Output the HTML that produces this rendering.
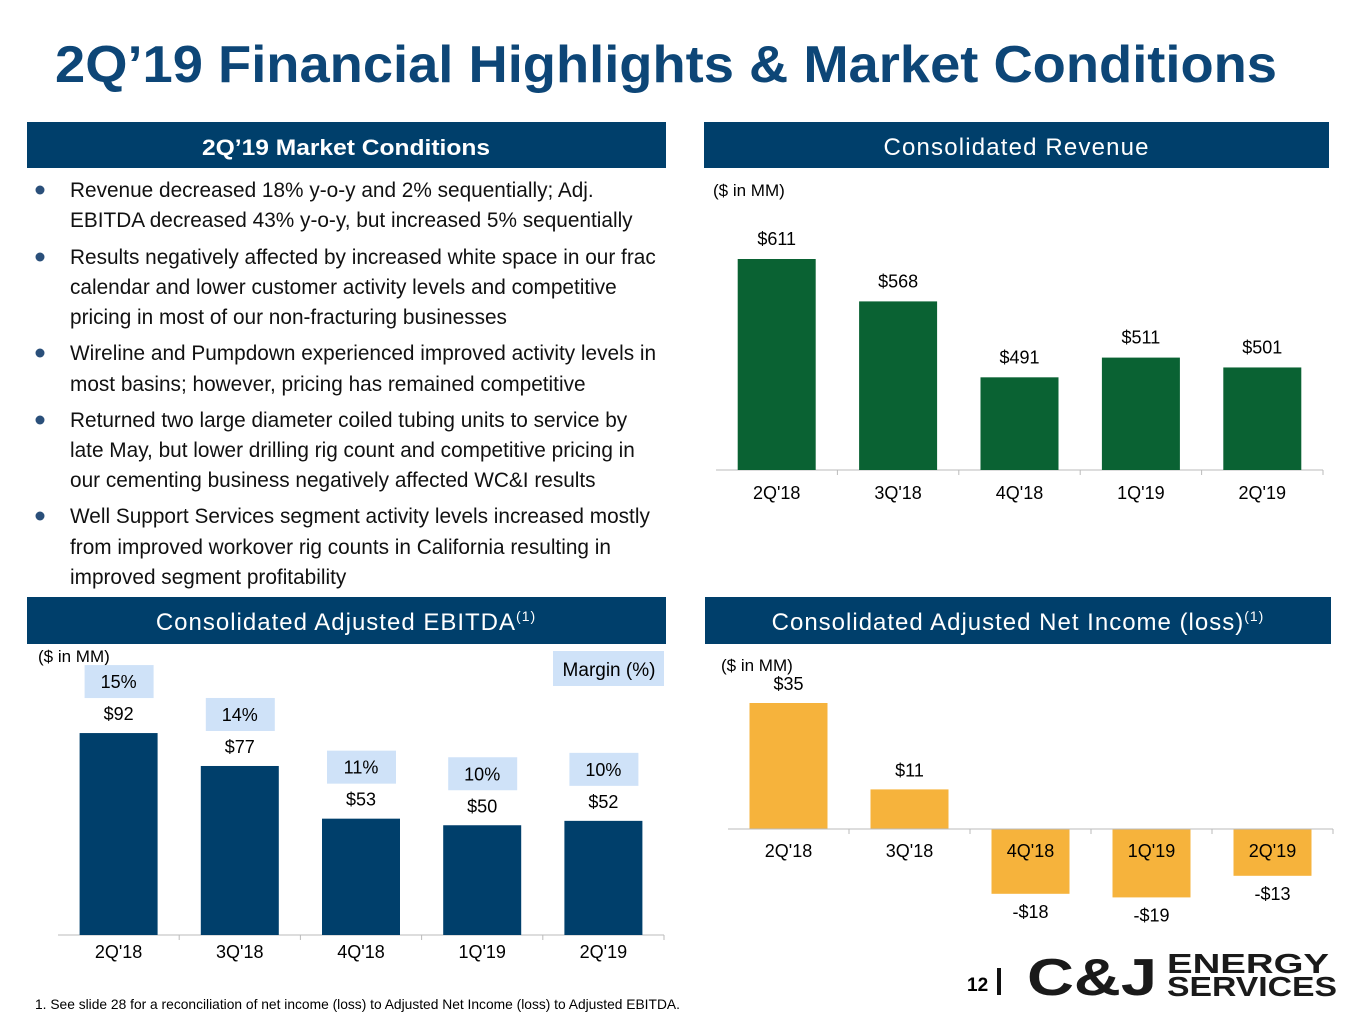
<!DOCTYPE html>
<html><head><meta charset="utf-8"><style>
body{margin:0;width:1365px;height:1024px;background:#fff;overflow:hidden;font-family:"Liberation Sans",sans-serif}
svg{display:block}
</style></head><body>
<svg width="1365" height="1024" viewBox="0 0 1365 1024" font-family="Liberation Sans, sans-serif">
<text x="55" y="82" font-size="52" font-weight="bold" fill="#0d4677" textLength="1222" lengthAdjust="spacingAndGlyphs">2Q’19 Financial Highlights &amp; Market Conditions</text>

<g><rect x="27" y="122" width="639" height="46" fill="#003f6b"/><text x="346" y="155" text-anchor="middle" fill="#fff" font-size="22" font-weight="bold" textLength="288" lengthAdjust="spacingAndGlyphs">2Q’19 Market Conditions</text></g>
<g><rect x="704" y="122" width="625" height="46" fill="#003f6b"/><text x="1016" y="155" text-anchor="middle" fill="#fff" font-size="24" textLength="265" lengthAdjust="spacing">Consolidated Revenue</text></g>
<g><rect x="27" y="597" width="639" height="47" fill="#003f6b"/><text x="346" y="630" text-anchor="middle" fill="#fff" font-size="24" letter-spacing="1">Consolidated Adjusted EBITDA<tspan font-size="14" dy="-9">(1)</tspan></text></g>
<g><rect x="705" y="597" width="626" height="47" fill="#003f6b"/><text x="1018" y="630" text-anchor="middle" fill="#fff" font-size="24" letter-spacing="1">Consolidated Adjusted Net Income (loss)<tspan font-size="14" dy="-9">(1)</tspan></text></g>

<g font-size="20.8" fill="#111">
<g fill="#2a4f7a"><circle cx="40" cy="190" r="4.5"/><circle cx="40" cy="257" r="4.5"/><circle cx="40" cy="353" r="4.5"/><circle cx="40" cy="420" r="4.5"/><circle cx="40" cy="516" r="4.5"/></g>
<text x="70" y="197">Revenue decreased 18% y-o-y and 2% sequentially; Adj.</text>
<text x="70" y="227">EBITDA decreased 43% y-o-y, but increased 5% sequentially</text>
<text x="70" y="264">Results negatively affected by increased white space in our frac</text>
<text x="70" y="294">calendar and lower customer activity levels and competitive</text>
<text x="70" y="324">pricing in most of our non-fracturing businesses</text>
<text x="70" y="360">Wireline and Pumpdown experienced improved activity levels in</text>
<text x="70" y="391">most basins; however, pricing has remained competitive</text>
<text x="70" y="427">Returned two large diameter coiled tubing units to service by</text>
<text x="70" y="457">late May, but lower drilling rig count and competitive pricing in</text>
<text x="70" y="487">our cementing business negatively affected WC&amp;I results</text>
<text x="70" y="523">Well Support Services segment activity levels increased mostly</text>
<text x="70" y="554">from improved workover rig counts in California resulting in</text>
<text x="70" y="584">improved segment profitability</text>
</g>

<text x="713" y="196" font-size="17">($ in MM)</text>
<g id="rev"></g>
<text x="38" y="662" font-size="17">($ in MM)</text>
<g><rect x="553" y="651" width="111" height="35" fill="#cfe2f8"/><text x="609" y="676" text-anchor="middle" font-size="19">Margin (%)</text></g>
<g id="ebitda"></g>
<text x="721" y="671" font-size="17">($ in MM)</text>
<g id="ni"></g>

<text x="35" y="1009" font-size="13.8">1.  See slide 28 for a reconciliation of net income (loss) to Adjusted Net Income (loss) to Adjusted EBITDA.</text>
<g>
<text x="967" y="991" font-size="19" font-weight="bold">12</text>
<rect x="997" y="968" width="4" height="27" fill="#111"/>
<text x="1027" y="995" font-size="52" font-weight="900" fill="#1a1a1a" textLength="130" lengthAdjust="spacingAndGlyphs">C&amp;J</text>
<text x="1167" y="973" font-size="28" font-weight="bold" fill="#1a1a1a" textLength="162" lengthAdjust="spacingAndGlyphs">ENERGY</text>
<text x="1167" y="996" font-size="28" font-weight="bold" fill="#1a1a1a" textLength="170" lengthAdjust="spacingAndGlyphs">SERVICES</text>
</g>
</svg>
<script>
const categories=["2Q'18","3Q'18","4Q'18","1Q'19","2Q'19"];
const revenue=[611,568,491,511,501];
const ebitda=[92,77,53,50,52];
const margins=["15%","14%","11%","10%","10%"];
const netIncome=[35,11,-18,-19,-13];
const NS="http://www.w3.org/2000/svg";
function mk(p,t,a,txt){const e=document.createElementNS(NS,t);for(const k in a)e.setAttribute(k,a[k]);if(txt!=null)e.textContent=txt;p.appendChild(e);return e;}
function fmt(v){return (v<0?'-$':'$')+Math.abs(v);}
(function(){const g=document.getElementById('rev');const base=470,x0=716,x1=1323,vmin=397,k=211/(611-397);
const step=(x1-x0)/categories.length;const y=v=>base-(v-vmin)*k;
const ax=mk(g,'line',{x1:x0,x2:x1,y1:base,y2:base,stroke:'#bbb'});

revenue.forEach((v,i)=>{const cx=x0+step*(i+0.5);
const r=mk(g,'rect',{x:cx-39,y:y(v),width:78,height:base-y(v),fill:'#0a6233'});

const t=mk(g,'text',{x:cx,y:y(v)-14,'text-anchor':'middle','font-size':18},fmt(v));

const c=mk(g,'text',{x:cx,y:499,'text-anchor':'middle','font-size':18},categories[i]);

mk(g,'line',{x1:x0+step*(i+1),x2:x0+step*(i+1),y1:base,y2:base+5,stroke:'#bbb'});});})();
(function(){const g=document.getElementById('ebitda');const base=935,x0=58,x1=664,k=2.195;
const step=(x1-x0)/categories.length;const y=v=>base-v*k;
const ax=mk(g,'line',{x1:x0,x2:x1,y1:base,y2:base,stroke:'#bbb'});

ebitda.forEach((v,i)=>{const cx=x0+step*(i+0.5);
const r=mk(g,'rect',{x:cx-39,y:y(v),width:78,height:base-y(v),fill:'#003f6b'});

const t=mk(g,'text',{x:cx,y:y(v)-13,'text-anchor':'middle','font-size':18},fmt(v));

const b=mk(g,'rect',{x:cx-34,y:y(v)-68,width:69,height:33,fill:'#cfe2f8'});

const m=mk(g,'text',{x:cx,y:y(v)-45,'text-anchor':'middle','font-size':18},margins[i]);

const c=mk(g,'text',{x:cx,y:958,'text-anchor':'middle','font-size':18},categories[i]);

mk(g,'line',{x1:x0+step*(i+1),x2:x0+step*(i+1),y1:base,y2:base+5,stroke:'#bbb'});});})();
(function(){const g=document.getElementById('ni');const base=829,x0=728,x1=1333,k=3.6;
const step=(x1-x0)/categories.length;const y=v=>base-v*k;
netIncome.forEach((v,i)=>{const cx=x0+step*(i+0.5);const top=Math.min(y(v),base),h=Math.abs(v*k);
const r=mk(g,'rect',{x:cx-39,y:top,width:78,height:h,fill:'#f6b33c'});

const t=mk(g,'text',{x:cx,y:v>=0?y(v)-13:y(v)+24,'text-anchor':'middle','font-size':18},fmt(v));

const c=mk(g,'text',{x:cx,y:857,'text-anchor':'middle','font-size':18},categories[i]);

mk(g,'line',{x1:x0+step*(i+1),x2:x0+step*(i+1),y1:base,y2:base+5,stroke:'#bbb'});});
const ax=mk(g,'line',{x1:x0,x2:x1,y1:base,y2:base,stroke:'#bbb'});
})();
</script>
</body></html>
